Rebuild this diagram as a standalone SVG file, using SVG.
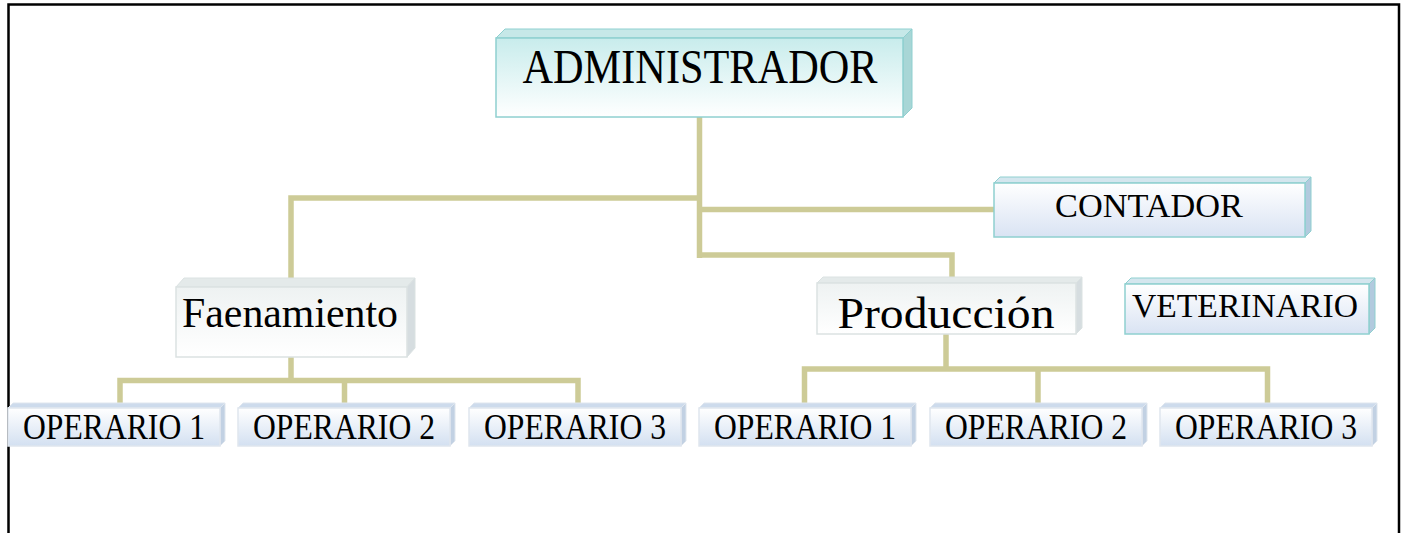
<svg xmlns="http://www.w3.org/2000/svg" width="1402" height="533" viewBox="0 0 1402 533">
<defs>
<linearGradient id="gTeal" x1="0" y1="0" x2="0" y2="1"><stop offset="0" stop-color="#c8ecec"/><stop offset="1" stop-color="#ffffff"/></linearGradient>
<linearGradient id="gBlue" x1="0" y1="0" x2="0" y2="1"><stop offset="0" stop-color="#ffffff"/><stop offset="1" stop-color="#d9e3f3"/></linearGradient>
<linearGradient id="gGray" x1="0" y1="0" x2="0" y2="1"><stop offset="0" stop-color="#eef2f2"/><stop offset="1" stop-color="#ffffff"/></linearGradient>
<linearGradient id="gOp" x1="0" y1="0" x2="0" y2="1"><stop offset="0" stop-color="#ffffff"/><stop offset="1" stop-color="#d3e0f1"/></linearGradient>
</defs>
<style>
text{font-family:"Liberation Serif","Times New Roman",serif;fill:#000;text-anchor:middle}
.conn{fill:none;stroke:#cdcb97;stroke-width:5.5;stroke-linecap:butt;stroke-linejoin:miter}
.teal .front{fill:url(#gTeal);stroke:#8fd0d0;stroke-width:1.5}
.teal .top{fill:#c6e8e8;stroke:#8fd0d0;stroke-width:1}
.teal .side{fill:#a8d6d6;stroke:#8fd0d0;stroke-width:1}
.blue .front{fill:url(#gBlue);stroke:#8fd0d0;stroke-width:1.5}
.blue .top{fill:#d4e6ee;stroke:#8fd0d0;stroke-width:1}
.blue .side{fill:#b2cade;stroke:#8fd0d0;stroke-width:1}
.gray .front{fill:url(#gGray);stroke:#dbe2e2;stroke-width:1.5}
.gray .top{fill:#e4eaea;stroke:#dbe2e2;stroke-width:1}
.gray .side{fill:#d6dde0;stroke:#dbe2e2;stroke-width:1}
.op .front{fill:url(#gOp);stroke:#dfe6ee;stroke-width:1.5}
.op .top{fill:#cddbec;stroke:#dfe6ee;stroke-width:1}
.op .side{fill:#c2d1e3;stroke:#dfe6ee;stroke-width:1}
</style>
<rect x="0" y="0" width="1402" height="533" fill="#ffffff"/>
<path d="M8.5,533 V4.5 H1399 V533" fill="none" stroke="#000" stroke-width="2.5"/>

<g id="connectors">
<path class="conn" d="M699.5,117 V258"/>
<path class="conn" d="M697,198 H291 V287"/>
<path class="conn" d="M702,209.5 H994"/>
<path class="conn" d="M697,255 H952 V278"/>
<path class="conn" d="M291,357 V380.5"/>
<path class="conn" d="M120,407 V380.5 H578 V406"/>
<path class="conn" d="M344.5,380.5 V407"/>
<path class="conn" d="M946,334 V369"/>
<path class="conn" d="M804.5,407 V369 H1267.5 V406"/>
<path class="conn" d="M1038,369 V406"/>
</g>

<g id="administrador" class="teal">
<polygon class="top" points="496,38 505,29 912,29 903,38"/>
<polygon class="side" points="903,38 912,29 912,108 903,117"/>
<rect class="front" x="496" y="38" width="407" height="79"/>
<text x="700" y="83" font-size="49" textLength="355" lengthAdjust="spacingAndGlyphs">ADMINISTRADOR</text>
</g>

<g id="contador" class="blue">
<polygon class="top" points="994,183 1000,177 1311,177 1305,183"/>
<polygon class="side" points="1305,183 1311,177 1311,231 1305,237"/>
<rect class="front" x="994" y="183" width="311" height="54"/>
<text x="1149" y="217" font-size="34" textLength="188" lengthAdjust="spacingAndGlyphs">CONTADOR</text>
</g>

<g id="veterinario" class="blue">
<polygon class="top" points="1125,284 1131,278 1375,278 1369,284"/>
<polygon class="side" points="1369,284 1375,278 1375,328 1369,334"/>
<rect class="front" x="1125" y="284" width="244" height="50"/>
<text x="1245" y="317" font-size="34" textLength="226" lengthAdjust="spacingAndGlyphs">VETERINARIO</text>
</g>

<g id="faenamiento" class="gray">
<polygon class="top" points="176,287 184,278 415,278 407,287"/>
<polygon class="side" points="407,287 415,278 415,348 407,357"/>
<rect class="front" x="176" y="287" width="231" height="70"/>
<text x="290" y="327" font-size="42" textLength="216" lengthAdjust="spacingAndGlyphs">Faenamiento</text>
</g>

<g id="produccion" class="gray">
<polygon class="top" points="817,283 823,277 1082,277 1076,283"/>
<polygon class="side" points="1076,283 1082,277 1082,328 1076,334"/>
<rect class="front" x="817" y="283" width="259" height="51"/>
<text x="946" y="328" font-size="45" textLength="217" lengthAdjust="spacingAndGlyphs">Producción</text>
</g>

<g id="f-operario1" class="op">
<polygon class="top" points="8,408 13,403 225,403 220,408"/>
<polygon class="side" points="220,408 225,403 225,441 220,446"/>
<rect class="front" x="8" y="408" width="212" height="38"/>
<text x="114" y="439" font-size="35" textLength="182" lengthAdjust="spacingAndGlyphs">OPERARIO 1</text>
</g>
<g id="f-operario2" class="op">
<polygon class="top" points="238,408 243,403 455,403 450,408"/>
<polygon class="side" points="450,408 455,403 455,441 450,446"/>
<rect class="front" x="238" y="408" width="212" height="38"/>
<text x="344" y="439" font-size="35" textLength="182" lengthAdjust="spacingAndGlyphs">OPERARIO 2</text>
</g>
<g id="f-operario3" class="op">
<polygon class="top" points="469,408 474,403 686,403 681,408"/>
<polygon class="side" points="681,408 686,403 686,441 681,446"/>
<rect class="front" x="469" y="408" width="212" height="38"/>
<text x="575" y="439" font-size="35" textLength="182" lengthAdjust="spacingAndGlyphs">OPERARIO 3</text>
</g>
<g id="p-operario1" class="op">
<polygon class="top" points="699,408 704,403 916,403 911,408"/>
<polygon class="side" points="911,408 916,403 916,441 911,446"/>
<rect class="front" x="699" y="408" width="212" height="38"/>
<text x="805" y="439" font-size="35" textLength="182" lengthAdjust="spacingAndGlyphs">OPERARIO 1</text>
</g>
<g id="p-operario2" class="op">
<polygon class="top" points="930,408 935,403 1147,403 1142,408"/>
<polygon class="side" points="1142,408 1147,403 1147,441 1142,446"/>
<rect class="front" x="930" y="408" width="212" height="38"/>
<text x="1036" y="439" font-size="35" textLength="182" lengthAdjust="spacingAndGlyphs">OPERARIO 2</text>
</g>
<g id="p-operario3" class="op">
<polygon class="top" points="1160,408 1165,403 1377,403 1372,408"/>
<polygon class="side" points="1372,408 1377,403 1377,441 1372,446"/>
<rect class="front" x="1160" y="408" width="212" height="38"/>
<text x="1266" y="439" font-size="35" textLength="182" lengthAdjust="spacingAndGlyphs">OPERARIO 3</text>
</g>
</svg>
